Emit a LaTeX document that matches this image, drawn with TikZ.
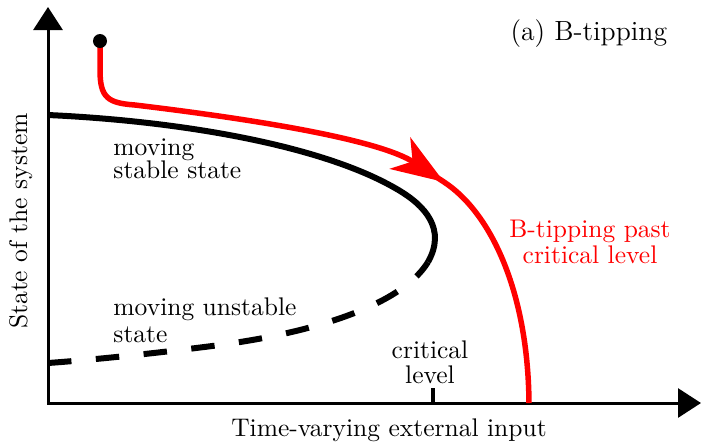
\documentclass[tikz,border=0pt]{standalone}
\usetikzlibrary{arrows.meta}
\begin{document}
\begin{tikzpicture}[x=0.4pt,y=-0.4pt,
  axis/.style={line width=1.2pt, {Triangle[length=9.2pt,width=11.6pt]}-{Triangle[length=9.2pt,width=11.6pt]}},
  stab/.style={line width=2.4pt},
  unstab/.style={line width=2.4pt, dash pattern=on 9.4pt off 9.8pt},
  traj/.style={line width=2.2pt, red},
  lbl/.style={font=\fontsize{10.2}{10.2}\selectfont, inner sep=0pt},
]
\useasboundingbox (0,0) rectangle (702,443);
\coordinate (O) at (48,403);
\coordinate (Ytip) at (48,7);
\coordinate (Xtip) at (701,403);
\coordinate (crit) at (433,403);
\coordinate (critTop) at (433,388);
\coordinate (start) at (100,41);
\coordinate (tip) at (444,182);
\coordinate (behind) at (428,171.5);
\coordinate (turn) at (395,188);
\coordinate (fold) at (428,262);
% axes
\draw[axis] (Ytip) -- (O) -- (Xtip);
\draw[line width=1.6pt] (crit) -- (critTop);
% stable branch
\draw[stab] (48,115) .. controls (180,121) and (320,145) .. (turn)
  .. controls (427,206) and (446,230) .. (fold);
% unstable branch
\draw[unstab] (48,363) .. controls (90,360) and (150,354) .. (220,345)
  .. controls (330,330) and (405,300) .. (fold);
% trajectory
\draw[traj] (behind) -- (tip) .. controls (490,212) and (528,290) .. (529,403);
\draw[traj, -{Stealth[length=21pt,width=15pt,inset=6pt]}] (100,45) -- (100,70)
  .. controls (100,98) and (108,103) .. (135,105)
  .. controls (260,120) and (380,140) .. (tip);
\fill (start) circle (2.8pt);
% labels
\node[lbl, anchor=base west, font=\fontsize{11.1}{11.1}\selectfont] (title) at (510,40) {(a) B-tipping};
\node[lbl, anchor=base west] (ms1) at (113,155) {moving};
\node[lbl, anchor=base west] (ms2) at (113,178) {stable state};
\node[lbl, anchor=base west] (mu1) at (113,315) {moving unstable};
\node[lbl, anchor=base west] (mu2) at (113,342) {state};
\node[lbl, anchor=base] (cl1) at (430,358) {critical};
\node[lbl, anchor=base] (cl2) at (430,383) {level};
\node[lbl, anchor=base, red] (bt1) at (590,237) {B-tipping past};
\node[lbl, anchor=base, red] (bt2) at (590,263) {critical level};
\node[lbl, anchor=base] (xl) at (389,436) {Time-varying external input};
\node[lbl, anchor=base, rotate=90] (yl) at (27,221) {State of the system};
\end{tikzpicture}
\end{document}
